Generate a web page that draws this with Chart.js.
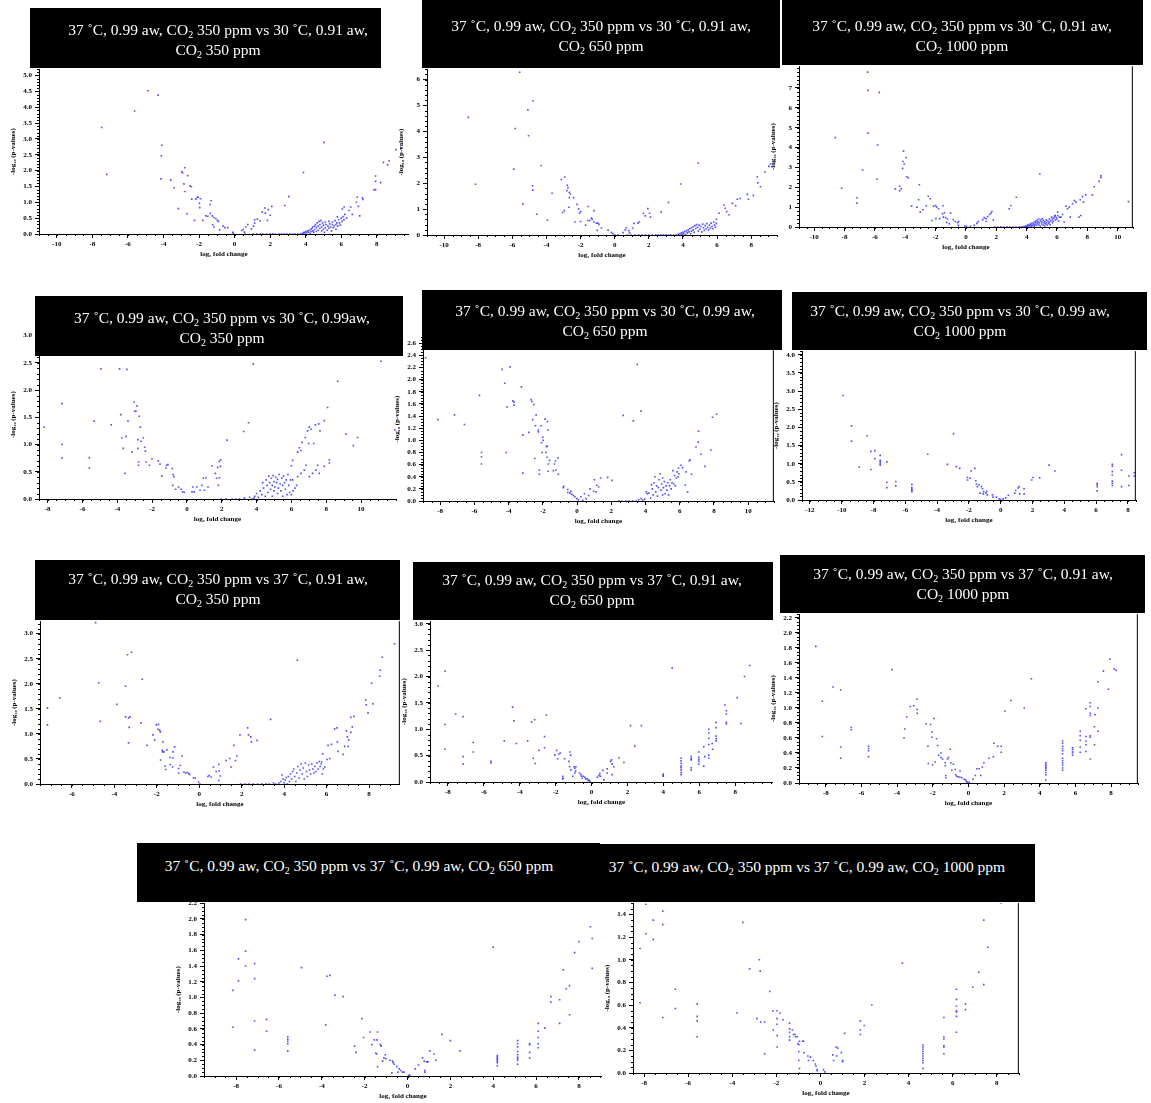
<!DOCTYPE html>
<html><head><meta charset="utf-8">
<script src="https://cdn.jsdelivr.net/npm/chart.js@4.4.0/dist/chart.umd.min.js"></script>
<style>
html,body{margin:0;padding:0;background:#fff;width:1151px;height:1103px;overflow:hidden;position:relative;font-family:"Liberation Serif","Times New Roman",serif;}
.box{position:absolute;background:#000;z-index:10;overflow:hidden;}
.txt{position:absolute;width:700px;text-align:center;color:#fff;font:15.5px/20px "Liberation Serif","Times New Roman",serif;white-space:nowrap;z-index:11;}
.txt sub{font-size:10px;line-height:0;vertical-align:-3px;}
</style></head><body>
<script>
// ---------------- DATA ----------------
const xTicksA = [-10,-8,-6,-4,-2,0,2,4,6,8];
const xTicksB = [-10,-8,-6,-4,-2,0,2,4,6,8,10];
const xTicksC = [-8,-6,-4,-2,0,2,4,6,8,10];
const xTicksD = [-12,-10,-8,-6,-4,-2,0,2,4,6,8];
const xTicksE = [-6,-4,-2,0,2,4,6,8];
const xTicksF = [-8,-6,-4,-2,0,2,4,6,8];
const yTicks1 = [0,0.5,1,1.5,2,2.5,3,3.5,4,4.5,5];
const yTicks2 = [0,1,2,3,4,5,6];
const yTicks3 = [0,1,2,3,4,5,6,7];
const yTicks4 = [0,0.5,1,1.5,2,2.5,3];
const yTicks5 = [0,0.2,0.4,0.6,0.8,1,1.2,1.4,1.6,1.8,2,2.2,2.4,2.6];
const yTicks6 = [0,0.5,1,1.5,2,2.5,3,3.5,4];
const yTicks9 = [0,0.2,0.4,0.6,0.8,1,1.2,1.4,1.6,1.8,2,2.2];
const yTicks11 = [0,0.2,0.4,0.6,0.8,1,1.2,1.4];

const titles = [
 '37 ˚C, 0.99 aw, CO<sub>2</sub> 350 ppm vs 30 ˚C, 0.91 aw,<br>CO<sub>2</sub> 350 ppm',
 '37 ˚C, 0.99 aw, CO<sub>2</sub> 350 ppm vs 30 ˚C, 0.91 aw,<br>CO<sub>2</sub> 650 ppm',
 '37 ˚C, 0.99 aw, CO<sub>2</sub> 350 ppm vs 30 ˚C, 0.91 aw,<br>CO<sub>2</sub> 1000 ppm',
 '37 ˚C, 0.99 aw, CO<sub>2</sub> 350 ppm vs 30 ˚C, 0.99aw,<br>CO<sub>2</sub> 350 ppm',
 '37 ˚C, 0.99 aw, CO<sub>2</sub> 350 ppm vs 30 ˚C, 0.99 aw,<br>CO<sub>2</sub> 650 ppm',
 '37 ˚C, 0.99 aw, CO<sub>2</sub> 350 ppm vs 30 ˚C, 0.99 aw,<br>CO<sub>2</sub> 1000 ppm',
 '37 ˚C, 0.99 aw, CO<sub>2</sub> 350 ppm vs 37 ˚C, 0.91 aw,<br>CO<sub>2</sub> 350 ppm',
 '37 ˚C, 0.99 aw, CO<sub>2</sub> 350 ppm vs 37 ˚C, 0.91 aw,<br>CO<sub>2</sub> 650 ppm',
 '37 ˚C, 0.99 aw, CO<sub>2</sub> 350 ppm vs 37 ˚C, 0.91 aw,<br>CO<sub>2</sub> 1000 ppm',
 '37 ˚C, 0.99 aw, CO<sub>2</sub> 350 ppm vs 37 ˚C, 0.99 aw, CO<sub>2</sub> 650 ppm',
 '37 ˚C, 0.99 aw, CO<sub>2</sub> 350 ppm vs 37 ˚C, 0.99 aw, CO<sub>2</sub> 1000 ppm'
];

const p1Points = [
 [-11.0,4.59],[-4.88,4.52],[-4.30,4.38],[-5.62,3.88],[-7.47,3.36],[-7.19,1.88],
 [-4.08,2.80],[-4.12,2.47],[-4.15,1.74],[-3.59,1.70],[-3.40,1.46],[-2.97,1.97],
 [-2.80,2.09],[-2.93,1.93],[-2.85,1.58],[-2.64,1.84],[-2.79,1.34],[-2.50,1.52],
 [-2.43,1.49],[-3.16,0.80],[-2.68,0.64],[-2.41,1.10],[-2.18,1.10],[-2.11,1.16],
 [-2.04,1.16],[-1.92,1.11],[-1.98,0.97],[-1.96,0.83],[-2.26,0.43],[-1.79,0.43],
 [-1.62,0.57],[-1.51,0.56],[-1.32,1.05],[-1.38,0.93],[-1.36,0.65],[-1.25,0.57],
 [-1.17,0.52],[-1.06,0.49],[-0.97,0.43],[-0.91,0.40],[-1.23,0.29],[-1.16,0.22],
 [-0.84,0.13],[-0.65,0.25],[-0.55,0.20],[-0.38,0.20],[-0.10,0.05],[-0.07,0.02],
 [0.40,0.11],[0.49,0.14],[0.55,0.06],[0.63,0.22],[0.74,0.30],[0.59,0.00],
 [0.95,0.16],[1.06,0.25],[1.13,0.34],[1.13,0.45],[1.28,0.47],[1.43,0.41],
 [1.56,0.69],[1.70,0.82],[1.73,0.66],[1.90,0.77],[2.09,0.87],[2.00,0.59],
 [1.85,0.43],[2.82,0.90],[3.05,1.18],[3.87,1.94],[5.03,2.89],
 [1.05,0],[1.25,0],[1.45,0],[1.6,0],[1.8,0],[2.0,0],[2.15,0],[2.3,0],[2.5,0],[2.65,0],
 [2.8,0],[2.95,0],[3.1,0],[3.25,0],[3.4,0],[3.55,0],[3.7,0],[3.8,0.01],
 [3.85,0.02],[3.9,0.05],[3.95,0.03],[4.0,0.08],[4.05,0.04],[4.1,0.1],[4.15,0.06],[4.2,0.12],
 [4.25,0.02],[4.3,0.15],[4.3,0.08],[4.35,0.18],[4.4,0.1],[4.4,0.22],[4.45,0.05],[4.5,0.25],
 [4.5,0.14],[4.55,0.3],[4.6,0.2],[4.6,0.08],[4.65,0.35],[4.7,0.25],[4.7,0.12],[4.75,0.4],
 [4.8,0.3],[4.8,0.18],[4.85,0.42],[4.9,0.22],[4.9,0.1],[4.95,0.35],[5.0,0.28],[5.0,0.15],
 [5.05,0.05],[5.1,0.38],[5.1,0.2],[5.15,0.3],[5.2,0.12],[5.25,0.25],[5.3,0.4],[5.3,0.18],
 [5.35,0.32],[5.4,0.22],[5.45,0.1],[5.5,0.3],[5.5,0.38],[5.55,0.2],[5.6,0.26],[5.65,0.42],
 [5.7,0.3],[5.7,0.15],[5.75,0.35],[5.8,0.25],[5.85,0.45],[5.9,0.35],[5.95,0.28],[6.0,0.5],
 [6.05,0.4],[6.1,0.55],[6.15,0.45],[6.2,0.62],[6.3,0.5],
 [5.78,0.54],[6.06,0.79],[6.16,0.85],[6.44,0.74],[6.53,0.85],[6.62,0.62],[6.85,1.00],
 [6.90,1.16],[6.96,0.87],[7.04,0.57],[7.19,1.14],[7.22,1.09],[7.84,1.39],[7.93,1.40],
 [7.93,1.66],[7.93,1.83],[8.22,1.62],[8.37,2.26],[8.60,2.18],[8.69,2.31],[9.07,2.66],[9.35,2.71]
];

const p2Points = [
 [-10.97,4.62],[-8.58,4.54],[-8.16,1.96],[-5.57,6.28],[-5.83,4.11],[-5.92,2.54],[-4.78,5.17],
 [-5.09,4.83],[-5.05,3.83],[-4.82,1.90],[-4.80,1.73],[-5.38,1.20],[-4.56,0.80],[-4.31,2.68],
 [-3.94,0.57],[-3.67,1.61],[-3.13,2.14],[-2.93,2.24],[-3.05,0.87],[-2.95,0.94],[-2.78,1.92],
 [-2.74,1.83],[-2.80,1.71],[-2.66,1.64],[-2.60,1.58],[-2.66,1.44],[-2.41,1.44],[-2.68,1.07],
 [-2.21,1.18],[-2.12,1.01],[-2.06,0.84],[-2.0,0.9],[-2.33,0.50],[-2.0,0.52],[-1.55,1.10],
 [-1.22,0.94],[-1.71,0.38],[-1.57,0.56],[-1.46,0.56],[-1.36,0.65],[-1.32,0.61],[-1.22,0.50],
 [-1.07,0.46],[-0.99,0.46],[-0.93,0.41],[-1.03,0.18],[-0.78,0.27],[-0.39,0.19],[-0.19,0.09],
 [-0.10,0.05],[0,0],[0.19,0],[0.49,0.09],[0.62,0.2],[0.68,0.28],[0.82,0.17],[0.87,0.08],
 [1.07,0.27],[1.13,0.45],[1.36,0.46],[1.44,0.5],[1.69,0.83],[1.79,0.74],[1.94,1.02],[2.04,0.84],
 [2.10,0.69],[2.72,0.89],[3.15,1.26],[3.88,1.97],[4.89,2.78],
 [0.75,0],[0.95,0],[1.2,0],[1.4,0],[1.6,0],[1.8,0],[2.0,0],[2.2,0],[2.4,0],[2.55,0],[2.7,0],
 [2.85,0],[3.0,0],[3.15,0],[3.3,0],[3.45,0],[3.6,0],
 [3.72,0.02],[3.8,0.05],[3.85,0.0],[3.9,0.08],[3.95,0.03],[4.0,0.1],[4.05,0.05],[4.1,0.13],
 [4.15,0.02],[4.2,0.16],[4.25,0.08],[4.3,0.2],[4.35,0.12],[4.4,0.24],[4.45,0.05],[4.5,0.28],
 [4.5,0.15],[4.6,0.32],[4.6,0.2],[4.65,0.1],[4.7,0.36],[4.75,0.25],[4.8,0.4],[4.85,0.3],
 [4.9,0.15],[4.95,0.38],[5.0,0.22],[5.05,0.33],[5.1,0.12],[5.15,0.42],[5.2,0.28],[5.25,0.18],
 [5.3,0.36],[5.35,0.24],[5.4,0.44],[5.45,0.3],[5.5,0.2],[5.55,0.38],[5.6,0.27],[5.65,0.46],
 [5.7,0.33],[5.75,0.24],[5.8,0.5],[5.85,0.38],[5.9,0.3],[5.95,0.45],
 [5.96,0.61],[6.12,0.84],[6.41,1.16],[6.47,1.03],[6.56,0.9],[6.7,0.78],[6.89,1.22],[7.09,1.13],
 [7.18,1.38],[7.34,1.41],[7.77,1.57],[7.83,1.38],[8.12,1.53],[8.35,2.25],[8.39,2.01],[8.54,1.86],
 [8.8,2.43],[9.03,2.65],[9.13,2.74],[9.36,2.78]
];

const p3Points = [
 [-10.98,4.58],[-8.6,4.5],[-8.19,1.95],[-7.18,1.47],[-7.18,1.2],[-6.81,2.87],[-6.48,7.8],
 [-6.45,6.88],[-6.45,4.73],[-5.71,6.78],[-5.82,4.13],[-5.86,2.42],[-4.65,1.92],[-4.37,2.05],
 [-4.37,1.83],[-4.26,1.93],[-4.11,3.82],[-3.95,3.5],[-4.15,3.3],[-4.06,3.17],[-4.17,2.95],
 [-3.89,2.53],[-3.8,2.47],[-3.58,1.05],[-3.23,1.0],[-3.12,1.37],[-3.07,2.13],[-3.01,0.75],
 [-2.83,0.87],[-2.61,1.07],[-2.48,1.55],[-2.35,1.42],[-2.24,0.33],[-2.13,1.05],[-2.0,1.08],
 [-1.93,1.0],[-1.98,0.42],[-1.8,0.92],[-1.73,0.42],[-1.51,1.07],[-1.54,0.67],[-1.41,0.72],
 [-1.49,0.5],[-1.34,0.47],[-1.27,0.23],[-1.21,0.4],[-1.1,0.17],[-1.01,0.7],[-0.83,0.37],
 [-0.7,0.28],[-0.55,0.22],[-0.5,0.08],[-0.48,0.28],[-0.07,0.05],[0.04,0.03],[0.29,0.03],
 [0.55,0.08],[0.72,0.18],[0.81,0.27],[1.1,0.37],[1.21,0.47],[1.32,0.42],[1.43,0.53],[1.34,0.28],
 [1.56,0.63],[1.65,0.7],[1.71,0.78],[1.8,0.35],[2.85,0.92],[2.96,1.08],[3.32,1.5],[4.87,2.67],
 [1.9,0],[2.1,0],[2.3,0],[2.5,0],[2.7,0],[2.9,0],[3.1,0],[3.3,0],[3.5,0],[3.65,0],
 [3.75,0.0],[3.85,0.02],[3.95,0.05],[4.0,0.02],[4.05,0.08],[4.1,0.04],[4.15,0.12],[4.2,0.06],
 [4.25,0.15],[4.3,0.02],[4.3,0.1],[4.35,0.2],[4.4,0.08],[4.45,0.16],[4.5,0.25],[4.5,0.04],
 [4.55,0.12],[4.6,0.22],[4.6,0.3],[4.65,0.08],[4.7,0.18],[4.7,0.35],[4.75,0.26],[4.8,0.12],
 [4.8,0.4],[4.85,0.2],[4.9,0.3],[4.9,0.05],[4.95,0.38],[5.0,0.15],[5.0,0.25],[5.05,0.42],
 [5.1,0.1],[5.1,0.32],[5.15,0.2],[5.2,0.05],[5.2,0.28],[5.25,0.15],[5.3,0.36],[5.3,0.22],
 [5.35,0.1],[5.4,0.3],[5.45,0.18],[5.5,0.25],[5.5,0.4],[5.55,0.12],[5.6,0.32],[5.65,0.5],
 [5.7,0.22],[5.7,0.4],[5.75,0.3],[5.8,0.45],[5.85,0.55],[5.9,0.35],[5.95,0.48],[6.0,0.4],
 [6.05,0.58],[6.1,0.3],[6.15,0.5],
 [5.88,0.58],[6.04,0.75],[6.26,0.5],[6.37,0.63],[6.48,0.25],[6.59,1.05],[6.7,0.92],[6.81,1.0],
 [6.87,0.5],[7.03,1.17],[7.14,1.33],[7.25,1.25],[7.46,0.5],[7.57,0.58],[7.53,1.37],[7.68,1.53],
 [7.75,1.25],[7.9,1.62],[8.34,1.62],[8.45,2.03],[8.78,2.3],[8.89,2.5],[8.91,2.58],[10.71,1.28]
];

const p4Points = [
 [-8.2,1.32],[-7.18,1.75],[-7.18,1.0],[-7.18,0.75],[-5.61,0.76],[-5.61,0.57],[-5.33,1.43],
 [-4.94,2.39],[-4.35,1.36],[-3.87,2.39],[-3.79,1.55],[-3.74,1.12],[-3.66,0.93],[-3.56,0.47],
 [-3.51,1.15],[-3.45,2.38],[-3.39,1.43],[-3.16,0.86],[-3.03,1.78],[-2.99,1.61],[-2.93,1.61],
 [-2.87,1.71],[-2.82,1.09],[-2.82,0.93],[-2.78,0.68],[-2.78,0.62],[-2.74,1.52],[-2.68,1.32],
 [-2.64,1.06],[-2.51,1.12],[-2.43,0.95],[-2.39,0.88],[-2.36,0.68],[-2.16,0.62],[-2.01,0.74],
 [-1.65,0.7],[-1.55,0.64],[-1.44,0.42],[-1.17,0.62],[-1.09,0.63],[-1.21,0.57],[-0.84,0.56],
 [-0.79,0.45],[-0.75,0.41],[-0.82,0.25],[-0.65,0.18],[-0.48,0.22],[-0.34,0.18],[-0.25,0.13],
 [-0.15,0.12],[0.29,0.13],[0.33,0.22],[0.42,0.13],[0.57,0.22],[0.75,0.16],[0.86,0.25],
 [0.94,0.38],[1.0,0.16],[1.09,0.39],[1.21,0.22],[1.44,0.61],[1.63,0.47],[1.70,0.38],[1.76,0.58],
 [1.80,0.25],[1.86,0.69],[1.92,0.6],[1.95,0.72],[1.86,0.39],[2.30,1.08],[3.26,1.24],[3.54,1.4],
 [3.81,2.48],
 [1.95,0.0],[2.25,0.0],[2.6,0.0],[2.8,0],[3.0,0.0],[3.3,0.02],[3.6,0.03],[3.75,0.0],
 [3.85,0.02],[3.9,0.05],[4.0,0.1],[4.1,0.03],[4.2,0.15],[4.3,0.08],[4.35,0.3],[4.4,0.2],
 [4.5,0.05],[4.55,0.35],[4.6,0.25],[4.65,0.12],[4.7,0.42],[4.75,0.3],[4.8,0.18],[4.85,0.38],
 [4.9,0.05],[4.9,0.25],[4.95,0.43],[5.0,0.32],[5.0,0.15],[5.05,0.22],[5.1,0.4],[5.15,0.3],
 [5.2,0.1],[5.2,0.36],[5.25,0.2],[5.3,0.45],[5.35,0.28],[5.4,0.15],[5.45,0.38],[5.5,0.25],
 [5.5,0.05],[5.55,0.42],[5.6,0.3],[5.65,0.18],[5.7,0.35],[5.75,0.08],[5.8,0.45],[5.85,0.25],
 [5.9,0.12],[5.95,0.35],[6.0,0.08],[6.1,0.15],[6.2,0.2],[6.3,0.25],
 [6.0,0.61],[6.07,0.71],[6.36,0.86],[6.46,0.94],[6.55,0.89],[6.61,1.04],[6.8,1.13],[6.93,1.25],
 [7.03,1.32],[7.13,1.28],[6.99,1.02],[7.28,1.02],[7.38,1.36],[7.57,1.38],[7.64,1.25],[7.89,1.44],
 [8.08,1.68],[8.66,2.16],
 [6.07,0.35],[6.36,0.41],[6.55,0.47],[6.74,0.53],[6.84,0.62],[7.03,0.41],[7.22,0.47],[7.41,0.53],
 [7.51,0.62],[7.6,0.47],[7.89,0.6],[8.18,0.66],[8.18,0.72],
 [9.14,1.19],[9.56,0.98],[9.8,1.13],[11.15,2.53],[11.95,1.27]
];

const p5Points = [
 [-8.85,2.36],[-8.13,1.34],[-7.16,1.42],[-6.58,1.26],[-5.70,1.74],[-5.58,0.8],[-5.58,0.73],
 [-5.58,0.61],[-4.38,2.17],[-4.22,1.94],[-4.09,1.55],[-4.14,0.8],[-3.91,2.21],[-3.75,1.65],
 [-3.68,1.63],[-3.68,1.58],[-3.25,1.88],[-3.17,1.09],[-3.17,0.46],[-2.82,1.13],[-2.68,1.67],
 [-2.64,1.64],[-2.53,1.59],[-2.59,1.34],[-2.47,0.7],[-2.39,1.42],[-2.43,1.24],[-2.26,1.17],
 [-2.26,1.14],[-2.2,0.51],[-2.2,0.44],[-2.1,1.24],[-2.08,0.96],[-2.0,1.05],[-1.98,1.0],
 [-2.04,0.8],[-1.87,1.35],[-1.79,0.9],[-1.75,0.9],[-1.81,0.8],[-1.75,0.72],[-1.73,1.31],
 [-1.69,1.17],[-1.67,0.61],[-1.61,0.67],[-1.69,0.49],[-1.38,0.5],[-1.32,0.61],[-1.26,0.66],
 [-1.23,0.51],[-1.11,0.71],[-1.09,0.44],[-0.78,0.24],[-0.8,0.22],[-0.54,0.19],[-0.41,0.13],
 [-0.54,0.14],[-0.35,0.16],[-0.31,0.11],[-0.21,0.09],[-0.12,0.07],[-0.02,0.04],[0.08,0.02],
 [0.23,0.07],[0.33,0.01],[0.43,0.12],[0.53,0.04],[0.68,0.09],[0.76,0.2],[0.97,0.16],[1.01,0.35],
 [1.11,0.15],[1.15,0.26],[1.26,0.23],[1.38,0.38],[1.79,0.39],[2.04,0.34],
 [2.7,1.41],[3.29,1.32],[3.52,2.25],[3.74,1.48],
 [2.45,0.0],[2.6,0.0],[2.85,0.0],[3.05,0],[3.25,0],[3.45,0],[3.6,0.02],[3.75,0.04],[3.85,0.01],[3.95,0.03],
 [4.05,0.15],[4.1,0.12],[4.2,0.13],[4.3,0.05],[4.35,0.27],[4.4,0.2],[4.45,0.1],[4.5,0.3],
 [4.55,0.4],[4.6,0.15],[4.65,0.25],[4.7,0.08],[4.75,0.22],[4.8,0.35],[4.85,0.45],[4.9,0.18],
 [4.95,0.28],[5.0,0.1],[5.0,0.38],[5.05,0.22],[5.1,0.32],[5.15,0.12],[5.2,0.25],[5.25,0.18],
 [5.3,0.3],[5.35,0.1],[5.4,0.25],[5.45,0.35],[5.5,0.2],[5.55,0.3],[5.6,0.5],[5.65,0.28],
 [5.7,0.42],[5.75,0.25],[5.8,0.38],[5.85,0.48],[5.9,0.4],[5.95,0.45],
 [5.93,0.54],[6.07,0.59],[6.17,0.55],[6.32,0.26],[6.46,0.15],[6.36,0.48],[6.56,0.66],[6.61,0.68],
 [6.69,0.44],[6.95,0.89],[7.08,0.97],[7.1,1.15],[7.24,0.77],[7.47,0.57],[7.82,0.84],[7.92,1.38],[8.15,1.43]
];

const p6Points = [
 [-9.91,2.88],[-9.38,2.04],[-9.38,1.62],[-8.9,0.91],[-8.4,1.77],[-8.17,1.34],[-8.17,0.84],
 [-7.92,1.36],[-7.92,1.14],[-7.58,1.23],[-7.58,1.09],[-7.58,1.05],[-7.58,1.0],[-7.58,0.96],
 [-7.16,1.05],[-7.16,0.49],[-7.16,0.34],[-6.6,0.51],[-6.6,0.39],[-5.59,0.43],[-5.59,0.34],
 [-5.59,0.3],[-5.59,0.26],[-5.59,0.23],[-4.59,1.26],[-3.35,0.98],[-2.97,1.83],[-2.79,0.92],
 [-2.58,0.87],[-2.09,0.55],[-2.09,0.62],[-1.93,0.6],[-1.86,0.8],[-1.63,0.87],[-1.57,0.53],
 [-1.53,0.44],[-1.47,0.37],[-1.36,0.42],[-1.3,0.19],[-1.21,0.37],[-1.15,0.31],[-1.07,0.23],
 [-1.11,0.17],[-0.94,0.19],[-0.84,0.14],[-0.88,0.23],[-0.52,0.14],[-0.48,0.08],[-0.27,0.08],
 [-0.1,0.03],[0,0.01],[0.15,0.03],[0.31,0.06],[0.48,0.13],[0.88,0.19],[0.94,0.26],[1.09,0.33],
 [1.15,0.37],[1.19,0.17],[1.47,0.17],[1.47,0.31],[1.95,0.55],[2.03,0.62],[2.45,0.61],[3.04,0.96],
 [3.41,0.8],[6.07,0.46],[6.07,0.42],[6.07,0.37],[6.07,0.25],[7.02,0.98],[7.02,0.93],[7.02,0.78],
 [7.02,0.69],[7.02,0.52],[7.02,0.46],[7.02,0.4],[7.6,1.25],[7.6,0.82],[7.6,0.37],[8.06,0.66],
 [8.06,0.4],[8.4,0.75],[8.4,0.66]
];

const p7Points = [
 [-7.15,1.52],[-7.15,1.18],[-6.57,1.72],[-4.88,3.22],[-4.73,2.02],[-4.66,1.25],[-3.88,1.59],
 [-3.47,1.95],[-3.47,1.34],[-3.38,2.58],[-3.33,1.32],[-3.33,0.82],[-3.3,1.13],[-3.19,2.63],
 [-3.26,1.34],[-2.74,1.22],[-2.68,2.09],[-2.46,0.77],[-2.18,0.98],[-2.1,0.88],[-2.02,1.18],
 [-1.94,1.09],[-1.92,1.19],[-1.86,1.07],[-1.83,1.04],[-1.82,0.48],[-1.74,0.67],[-1.72,0.64],
 [-1.71,0.84],[-1.67,0.64],[-1.61,0.36],[-1.58,0.29],[-1.52,0.68],[-1.38,0.53],[-1.25,0.34],
 [-1.24,0.52],[-1.24,0.64],[-1.16,0.74],[-1.36,0.39],[-0.97,0.22],[-0.97,0.31],[-0.89,0.37],
 [-0.81,0.56],[-0.72,0.24],[-0.64,0.22],[-0.56,0.23],[-0.49,0.21],[-0.45,0.19],[-0.27,0.12],
 [-0.19,0.12],[-0.03,0.04],[0.03,0.0],[0.41,0.15],[0.47,0.17],[0.56,0.14],[0.67,0.34],[0.8,0.25],
 [0.92,0.39],[0.94,0.26],[0.92,0.07],[0.99,0.16],[1.27,0.47],[1.44,0.51],[1.5,0.34],[1.64,0.77],
 [1.71,0.47],[1.77,0.56],[1.92,0.98],[2.28,1.12],[2.32,0.98],[2.43,0.94],[2.46,0.84],[2.72,0.87],
 [3.36,1.29],[4.62,2.47],
 [1.95,0],[2.15,0],[2.35,0],[2.55,0],[2.75,0],[2.95,0],[3.15,0],[3.3,0],
 [3.5,0.02],[3.6,0.0],[3.75,0.02],[3.85,0.05],[3.9,0.18],[3.95,0.1],[4.0,0.02],[4.05,0.08],
 [4.1,0.13],[4.15,0.0],[4.2,0.15],[4.25,0.05],[4.3,0.2],[4.35,0.1],[4.4,0.25],[4.45,0.3],
 [4.5,0.15],[4.55,0.05],[4.6,0.22],[4.65,0.35],[4.7,0.12],[4.75,0.28],[4.8,0.4],[4.85,0.2],
 [4.9,0.32],[4.95,0.1],[5.0,0.42],[5.05,0.25],[5.1,0.15],[5.15,0.38],[5.2,0.28],[5.25,0.2],
 [5.3,0.4],[5.35,0.3],[5.4,0.22],[5.45,0.35],[5.5,0.25],[5.55,0.42],[5.6,0.3],[5.65,0.45],
 [5.7,0.35],[5.75,0.4],[5.8,0.2],[5.85,0.3],
 [5.76,0.44],[5.81,0.6],[5.92,0.34],[6.02,0.49],[6.07,0.77],[6.15,0.51],[6.23,0.79],[6.38,1.1],
 [6.49,1.12],[6.51,0.84],[6.54,0.65],[6.78,0.59],[6.85,0.75],[6.93,1.06],[6.98,0.94],[7.01,0.75],
 [7.04,0.88],[7.14,1.33],[7.14,1.03],[7.21,1.14],[7.29,1.35],[7.84,1.68],[7.87,1.58],[7.95,1.42],
 [8.12,2.01],[8.18,1.6],[8.5,2.15],[8.53,2.27],[8.62,2.53],[9.2,2.8]
];

const p8Points = [
 [-8.55,1.82],[-8.16,2.1],[-8.16,1.09],[-8.16,0.62],[-7.57,1.29],[-7.16,1.24],[-7.16,0.48],
 [-7.16,0.34],[-6.59,0.75],[-6.59,0.57],[-5.6,0.39],[-5.6,0.36],[-4.86,0.78],[-4.4,1.42],
 [-4.32,1.16],[-4.19,0.73],[-3.56,0.78],[-3.34,1.14],[-3.25,0.45],[-3.17,1.18],[-3.14,0.35],
 [-2.93,0.6],[-2.62,0.86],[-2.62,0.65],[-2.52,1.27],[-2.04,0.51],[-1.95,0.6],[-1.89,0.44],
 [-1.82,0.53],[-1.74,0.55],[-1.6,0.11],[-1.6,0.07],[-1.6,0.06],[-1.5,0.44],[-1.26,0.39],
 [-1.21,0.57],[-1.17,0.51],[-1.22,0.29],[-1.15,0.23],[-1.04,0.11],[-0.98,0.29],[-0.93,0.26],
 [-0.89,0.21],[-0.87,0.29],[-0.93,0.17],[-0.67,0.17],[-0.59,0.14],[-0.56,0.11],[-0.52,0.07],
 [-0.46,0.11],[-0.37,0.09],[-0.33,0.06],[-0.24,0.06],[-0.19,0.03],[-0.13,0.03],[-0.09,0.01],
 [0.32,0.09],[0.41,0.12],[0.46,0.16],[0.5,0.11],[0.63,0.22],[0.69,0.04],[0.87,0.17],[0.87,0.25],
 [1.06,0.39],[1.11,0.42],[1.15,0.34],[1.15,0.14],[1.24,0.29],[1.52,0.46],[1.8,0.37],[2.17,1.07],
 [2.41,0.68],[2.78,1.07],[3.99,0.15],[3.99,0.12],[3.99,0.11],[4.49,2.16],
 [4.99,0.45],[4.99,0.4],[4.99,0.35],[4.99,0.3],[4.99,0.27],[4.99,0.23],[4.99,0.18],[4.99,0.14],
 [5.55,0.48],[5.55,0.44],[5.55,0.42],[5.55,0.27],[5.55,0.23],
 [5.97,0.57],[5.97,0.47],[5.97,0.43],[5.97,0.39],[5.97,0.34],[6.25,0.67],[6.25,0.3],[6.31,0.48],
 [6.53,1.0],[6.53,0.93],[6.53,0.83],[6.53,0.71],[6.53,0.51],[6.53,0.45],[6.72,0.73],[6.75,0.62],
 [6.94,1.13],[6.94,1.03],[6.94,0.87],[6.94,0.82],[6.94,0.78],[7.42,1.46],[7.51,1.35],[7.51,1.29],
 [7.51,1.13],[7.51,1.1],[8.11,1.6],[8.33,1.11],[8.52,2.0],[8.81,2.21]
];

const p9Points = [
 [-8.56,1.82],[-8.19,1.09],[-8.19,0.62],[-7.59,1.28],[-7.16,1.24],[-7.16,0.48],[-7.16,0.33],
 [-6.57,0.74],[-6.57,0.71],[-5.6,0.49],[-5.6,0.46],[-5.6,0.43],[-5.6,0.35],[-4.28,1.51],
 [-3.61,0.6],[-3.57,0.72],[-3.46,0.88],[-3.26,1.02],[-3.07,1.03],[-2.88,1.12],[-2.88,0.98],
 [-2.87,0.93],[-2.38,0.79],[-2.25,0.26],[-2.27,0.49],[-2.12,0.78],[-2.05,0.68],[-2.05,0.61],
 [-2.01,0.24],[-1.93,0.86],[-1.86,0.28],[-1.79,0.59],[-1.73,0.5],[-1.67,0.37],[-1.54,0.4],
 [-1.54,0.34],[-1.45,0.32],[-1.3,0.27],[-1.3,0.23],[-1.27,0.1],[-1.27,0.07],[-1.17,0.32],
 [-1.12,0.34],[-1.02,0.45],[-0.99,0.27],[-0.93,0.17],[-0.84,0.25],[-0.74,0.18],[-0.71,0.11],
 [-0.65,0.09],[-0.58,0.08],[-0.47,0.16],[-0.48,0.08],[-0.37,0.07],[-0.24,0.05],[-0.15,0.04],
 [-0.11,0.02],[-0.06,0.01],[0.04,0.01],[0.26,0.05],[0.39,0.1],[0.47,0.19],[0.6,0.19],[0.69,0.1],
 [0.78,0.21],[0.87,0.27],[1.15,0.33],[1.4,0.35],[1.43,0.53],[1.64,0.49],[1.84,0.49],[1.84,0.41],
 [2.05,0.96],[2.38,1.1],[3.13,1.0],[3.53,1.39],
 [4.34,0.27],[4.34,0.25],[4.34,0.23],[4.34,0.21],[4.34,0.19],[4.34,0.17],[4.34,0.14],[4.34,0.11],[4.34,0.04],
 [5.28,0.56],[5.28,0.53],[5.28,0.49],[5.28,0.46],[5.28,0.43],[5.28,0.39],[5.28,0.33],[5.28,0.3],
 [5.28,0.27],[5.28,0.24],[5.28,0.2],[5.28,0.17],
 [5.84,0.47],[5.84,0.45],[5.84,0.42],[5.84,0.4],[5.84,0.37],
 [6.27,0.69],[6.27,0.63],[6.27,0.57],[6.27,0.48],[6.27,0.41],
 [6.59,0.99],[6.59,0.62],[6.59,0.56],[6.59,0.51],[6.59,0.42],
 [6.83,1.07],[6.83,1.02],[6.83,0.93],[6.83,0.9],[6.83,0.63],[6.83,0.61],[6.83,0.32],
 [7.07,0.75],[7.07,0.51],[7.1,0.91],[7.26,1.0],[7.26,1.35],[7.26,0.69],[7.57,1.49],[7.85,1.25],
 [7.94,1.65],[8.17,1.52],[8.28,1.5]
];

const p10Points = [
 [-8.15,1.09],[-8.15,0.62],[-7.89,1.49],[-7.89,1.21],[-7.56,1.99],[-7.56,1.59],[-7.56,1.4],
 [-7.14,1.43],[-7.14,1.24],[-7.14,0.7],[-7.14,0.33],[-6.58,0.72],[-6.58,0.57],
 [-5.59,0.5],[-5.59,0.47],[-5.59,0.44],[-5.59,0.41],[-5.59,0.32],[-4.95,1.38],[-3.82,0.65],
 [-3.76,1.27],[-3.62,1.28],[-3.39,1.03],[-3.01,1.01],[-2.47,0.38],[-2.41,0.3],[-2.13,0.73],
 [-2.05,0.49],[-1.74,0.56],[-1.66,0.4],[-1.55,0.46],[-1.43,0.46],[-1.4,0.56],[-1.48,0.29],
 [-1.44,0.28],[-1.4,0.12],[-1.27,0.4],[-1.23,0.38],[-1.16,0.19],[-1.1,0.23],[-1.04,0.27],
 [-1.01,0.22],[-0.82,0.2],[-0.73,0.04],[-0.7,0.19],[-0.67,0.17],[-0.62,0.15],[-0.5,0.12],
 [-0.45,0.05],[-0.39,0.09],[-0.31,0.07],[-0.23,0.05],[-0.16,0.05],[0.05,0.01],[0.11,0.01],
 [0.36,0.09],[0.51,0.14],[0.7,0.23],[0.81,0.07],[0.81,0.05],[0.78,0.19],[0.89,0.18],[0.95,0.18],
 [1.04,0.32],[1.24,0.28],[1.32,0.2],[1.6,0.53],[2.0,0.45],[2.45,0.32],[4.0,1.64],
 [4.19,0.26],[4.19,0.24],[4.19,0.22],[4.19,0.21],[4.19,0.19],[4.19,0.17],[4.19,0.13],
 [5.14,0.45],[5.14,0.41],[5.14,0.37],[5.14,0.31],[5.14,0.27],[5.14,0.24],[5.14,0.22],[5.14,0.2],[5.14,0.15],
 [5.7,0.41],[5.7,0.4],[5.7,0.3],[5.7,0.23],
 [6.1,0.67],[6.1,0.57],[6.1,0.49],[6.1,0.41],[6.1,0.36],[6.41,0.61],[6.69,1.01],[6.69,0.94],
 [7.1,0.97],[7.1,0.67],[7.27,1.35],[7.41,1.11],[7.56,1.15],[7.56,0.78],[7.8,1.57],[8.0,1.71],
 [8.54,1.9],[8.62,1.75],[8.62,1.37]
];

const p11Points = [
 [-8.18,1.1],[-8.18,0.62],[-7.91,1.49],[-7.91,1.23],[-7.58,1.35],[-7.58,1.18],[-7.15,1.43],
 [-7.15,1.31],[-7.15,0.49],[-6.58,0.74],[-6.58,0.57],[-5.59,0.61],[-5.59,0.5],[-5.59,0.46],
 [-5.59,0.32],[-3.78,0.53],[-3.52,1.33],[-3.21,0.92],[-2.88,0.48],[-2.77,1.0],[-2.73,0.9],
 [-2.71,0.45],[-2.53,0.45],[-2.53,0.17],[-2.3,0.72],[-2.15,0.55],[-2.14,0.38],[-1.97,0.55],
 [-1.97,0.48],[-1.97,0.43],[-1.96,0.33],[-1.96,0.23],[-1.84,0.53],[-1.7,0.47],[-1.4,0.44],
 [-1.4,0.39],[-1.4,0.36],[-1.4,0.32],[-1.4,0.29],[-1.27,0.38],[-1.22,0.34],[-1.16,0.34],
 [-1.13,0.32],[-1.05,0.32],[-1.02,0.26],[-0.98,0.25],[-0.95,0.28],[-0.98,0.19],[-0.98,0.11],
 [-0.95,0.04],[-0.95,0.0],[-0.77,0.28],[-0.8,0.28],[-0.75,0.18],[-0.57,0.15],[-0.54,0.11],
 [-0.45,0.14],[-0.32,0.11],[-0.23,0.08],[-0.2,0.06],[-0.15,0.03],[-0.14,0.02],[0.14,0.03],
 [0.2,0.01],[0.56,0.16],[0.6,0.11],[0.71,0.23],[0.74,0.15],[0.78,0.22],[0.95,0.18],[1.01,0.11],
 [1.01,0.1],[1.1,0.35],[1.81,0.46],[1.81,0.38],[1.81,0.34],[1.99,0.42],[2.33,0.6],[3.72,0.97],
 [4.65,0.25],[4.65,0.23],[4.65,0.21],[4.65,0.19],[4.65,0.17],[4.65,0.15],[4.65,0.13],[4.65,0.11],
 [4.65,0.09],[4.65,0.04],
 [5.6,0.49],[5.6,0.32],[5.6,0.3],[5.6,0.24],[5.6,0.23],[5.6,0.17],
 [6.17,0.74],[6.17,0.65],[6.17,0.59],[6.17,0.55],[6.17,0.54],[6.17,0.5],[6.17,0.36],
 [6.58,0.61],[6.58,0.56],[6.91,0.76],[7.18,0.89],[7.41,1.35],[7.41,0.78],[7.59,1.11],[8.19,1.5]
];

// ---------------- LAYOUT (positions / styles only) ----------------
const panels = [
 {pts:p1Points, xt:xTicksA, yt:yTicks1, dec:1, l:39,  r:410,  t:68,  b:234, x0:-11,  x1:9.8,  y1:5.2,  ym:0.1,  rb:false,
  box:[30,8,351,60],  tx:218, ty:30},
 {pts:p2Points, xt:xTicksA, yt:yTicks2, dec:0, l:427, r:778,  t:68,  b:235, x0:-11,  x1:9.5,  y1:6.4,  ym:0.2,  rb:false,
  box:[422,0,358,68], tx:601, ty:26},
 {pts:p3Points, xt:xTicksB, yt:yTicks3, dec:0, l:799, r:1134, t:65,  b:227, x0:-11,  x1:11,   y1:8.1,  ym:0.2,  rb:true,
  box:[782,0,361,65], tx:962, ty:26},
 {pts:p4Points, xt:xTicksC, yt:yTicks4, dec:1, l:39,  r:397,  t:329, b:499, x0:-8.5, x1:12,   y1:3.1,  ym:0.1,  rb:false,
  box:[35,296,368,60], tx:222, ty:318},
 {pts:p5Points, xt:xTicksC, yt:yTicks5, dec:1, l:423, r:775,  t:336, b:501, x0:-9,   x1:11.5, y1:2.7,  ym:0.05, rb:true,
  box:[422,290,360,60], tx:605, ty:311},
 {pts:p6Points, xt:xTicksD, yt:yTicks6, dec:1, l:802, r:1137, t:350, b:500, x0:-12.5,x1:8.5,  y1:4.1,  ym:0.1,  rb:true,
  box:[792,292,355,58], tx:960, ty:311},
 {pts:p7Points, xt:xTicksE, yt:yTicks4, dec:1, l:40,  r:401,  t:620, b:784, x0:-7.5, x1:9.45, y1:3.25, ym:0.1,  rb:true,
  box:[35,560,365,60], tx:218, ty:579},
 {pts:p8Points, xt:xTicksF, yt:yTicks4, dec:1, l:430, r:774,  t:620, b:782, x0:-9,   x1:10.1, y1:3.05, ym:0.1,  rb:false,
  box:[413,562,360,58], tx:592, ty:580},
 {pts:p9Points, xt:xTicksF, yt:yTicks9, dec:1, l:799, r:1139, t:613, b:783, x0:-9.5, x1:9.5,  y1:2.25, ym:0.05, rb:true,
  box:[780,555,365,58], tx:963, ty:574},
 {pts:p10Points,xt:xTicksF, yt:yTicks9, dec:1, l:204, r:603,  t:902, b:1076,x0:-9.5, x1:9.07, y1:2.2,  ym:0.05, rb:false,
  box:[137,843,463,59], tx:359, ty:866},
 {pts:p11Points,xt:xTicksF, yt:yTicks11,dec:1, l:633, r:1020, t:902, b:1073,x0:-8.5, x1:9.0,  y1:1.5,  ym:0.05, rb:true,
  box:[578,844,457,58], tx:807, ty:867}
];

const YW = 30, XH = 24;
const FONT = '"Liberation Serif", "Times New Roman", serif';
Chart.defaults.font.family = FONT;

const minorPlugin = {
  id: 'minorTicks',
  afterDraw(chart, args, opts) {
    const {ctx, chartArea: a} = chart;
    const xs = chart.scales.x, ys = chart.scales.y;
    ctx.save();
    ctx.strokeStyle = '#000'; ctx.lineWidth = 1;
    ctx.beginPath();
    const xStep = opts.xStep, yStep = opts.yStep;
    for (let k = Math.ceil(xs.min / xStep); k * xStep <= xs.max + 1e-9; k++) {
      const px = Math.round(xs.getPixelForValue(k * xStep)) + 0.5;
      ctx.moveTo(px, a.bottom); ctx.lineTo(px, a.bottom + 2);
    }
    for (let k = 0; k * yStep <= ys.max + 1e-9; k++) {
      const py = Math.round(ys.getPixelForValue(k * yStep)) + 0.5;
      ctx.moveTo(a.left, py); ctx.lineTo(a.left - 2, py);
    }
    if (opts.rightBorder) {
      ctx.moveTo(a.right - 0.5, a.top); ctx.lineTo(a.right - 0.5, a.bottom);
    }
    ctx.stroke();
    ctx.restore();
  }
};

panels.forEach((P, i) => {
  const cv = document.createElement('canvas');
  const w = P.r - P.l + YW, h = P.b - P.t + XH;
  cv.width = w; cv.height = h;
  cv.style.cssText = `position:absolute;left:${P.l - YW}px;top:${P.t}px;width:${w}px;height:${h}px;z-index:${1+i};`;
  document.body.appendChild(cv);
  new Chart(cv, {
    type: 'scatter',
    data: { datasets: [{
      data: P.pts.map(p => ({x: p[0], y: p[1]})),
      backgroundColor: 'rgba(50,50,255,0.85)', borderWidth: 0,
      pointStyle: 'rect', pointRadius: 1.15, pointHoverRadius: 1.15
    }]},
    options: {
      responsive: false, animation: false, devicePixelRatio: 1,
      events: [],
      layout: { padding: 0 },
      plugins: {
        legend: {display: false}, tooltip: {enabled: false},
        minorTicks: { xStep: 0.5, yStep: P.ym, rightBorder: P.rb }
      },
      scales: {
        x: {
          type: 'linear', min: P.x0, max: P.x1,
          afterBuildTicks: s => { s.ticks = P.xt.map(v => ({value: v})); },
          afterFit: s => { s.height = XH; s.paddingLeft = 0; s.paddingRight = 0; },
          grid: { drawOnChartArea: false, tickLength: 4, color: '#000', lineWidth: 1 },
          border: { color: '#000', width: 1 },
          ticks: { autoSkip: false, maxRotation: 0, padding: 2, color: '#000',
                   font: {size: 7, weight: 'bold', family: FONT}, callback: v => String(v) },
          title: { display: true, text: 'log₂ fold change', color: '#000', padding: 0,
                   font: {size: 7, weight: 'bold', family: FONT} }
        },
        y: {
          type: 'linear', min: 0, max: P.y1,
          afterBuildTicks: s => { s.ticks = P.yt.map(v => ({value: v})); },
          afterFit: s => { s.width = YW; s.paddingTop = 0; s.paddingBottom = 0; },
          grid: { drawOnChartArea: false, tickLength: 4, color: '#000', lineWidth: 1 },
          border: { color: '#000', width: 1 },
          ticks: { autoSkip: false, padding: 3, color: '#000',
                   font: {size: 7, weight: 'bold', family: FONT}, callback: v => v.toFixed(P.dec) },
          title: { display: true, text: '-log₁₀ (p-values)', color: '#000', padding: 0,
                   font: {size: 7, weight: 'bold', family: FONT} }
        }
      }
    },
    plugins: [minorPlugin]
  });

  const bx = document.createElement('div');
  bx.className = 'box';
  bx.style.cssText = `left:${P.box[0]}px;top:${P.box[1]}px;width:${P.box[2]}px;height:${P.box[3]}px;`;
  document.body.appendChild(bx);
  const tx = document.createElement('div');
  tx.className = 'txt';
  tx.style.cssText = `left:${P.tx - 350}px;top:${P.ty - 10}px;`;
  tx.innerHTML = titles[i];
  document.body.appendChild(tx);
});
</script>
</body></html>
